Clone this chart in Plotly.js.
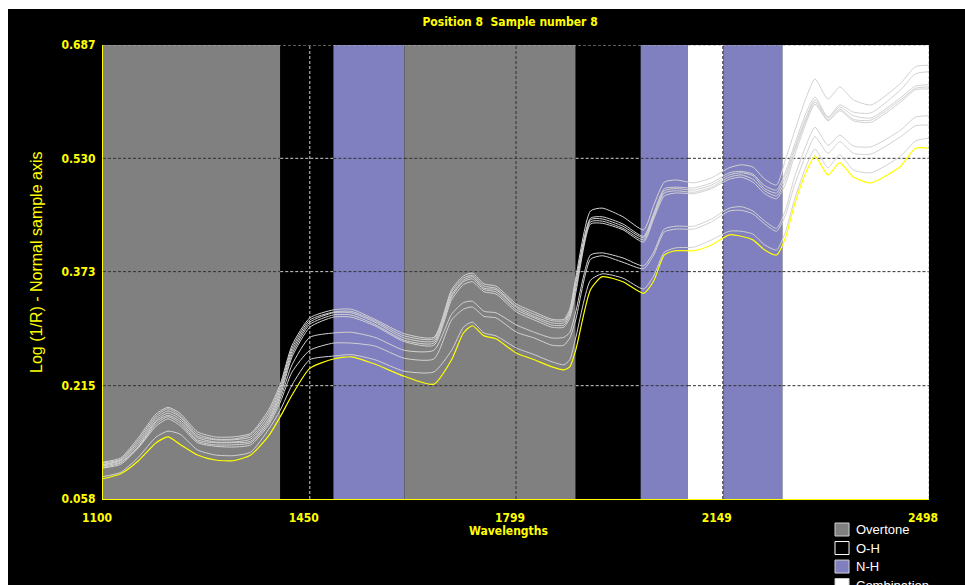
<!DOCTYPE html>
<html>
<head>
<meta charset="utf-8">
<script src="https://cdn.plot.ly/plotly-3.0.1.min.js"></script>
<style>
  html, body { margin: 0; padding: 0; background: #ffffff; width: 965px; height: 585px; overflow: hidden; }
  #chart { position: absolute; left: 8px; top: 9px; width: 957px; height: 576px; }
</style>
</head>
<body>
<div id="chart"></div>
<script>
// ---------------- DATA ----------------
const wavelengths = [1100, 1130, 1160, 1190, 1210, 1230, 1260, 1290, 1320, 1350,
  1380, 1400, 1420, 1450, 1490, 1520, 1560, 1610, 1660, 1690,
  1710, 1725, 1745, 1765, 1800, 1830, 1860, 1880, 1890, 1900,
  1925, 1945, 1980, 2015, 2032, 2050, 2070, 2100, 2130, 2160,
  2180, 2200, 2220, 2240, 2255, 2270, 2290, 2305, 2327, 2347,
  2370, 2400, 2450, 2475, 2498];

const spectrum1 = [0.109, 0.115, 0.143, 0.176, 0.185, 0.177, 0.151, 0.144, 0.144, 0.149,
  0.181, 0.217, 0.271, 0.309, 0.320, 0.321, 0.307, 0.287, 0.282, 0.348,
  0.367, 0.371, 0.356, 0.353, 0.328, 0.317, 0.307, 0.307, 0.321, 0.364,
  0.457, 0.461, 0.449, 0.431, 0.465, 0.497, 0.500, 0.496, 0.503, 0.517,
  0.521, 0.518, 0.501, 0.493, 0.528, 0.566, 0.614, 0.640, 0.612, 0.629,
  0.611, 0.604, 0.634, 0.657, 0.659];
const spectrum2 = [0.108, 0.113, 0.140, 0.173, 0.183, 0.174, 0.148, 0.141, 0.141, 0.147,
  0.177, 0.213, 0.267, 0.306, 0.317, 0.318, 0.305, 0.284, 0.280, 0.345,
  0.364, 0.368, 0.353, 0.350, 0.325, 0.314, 0.305, 0.305, 0.318, 0.359,
  0.447, 0.449, 0.439, 0.422, 0.454, 0.488, 0.490, 0.489, 0.496, 0.510,
  0.512, 0.508, 0.492, 0.486, 0.511, 0.548, 0.593, 0.615, 0.587, 0.604,
  0.594, 0.593, 0.625, 0.647, 0.650];
const spectrum3 = [0.106, 0.112, 0.137, 0.170, 0.180, 0.172, 0.145, 0.140, 0.140, 0.144,
  0.173, 0.209, 0.263, 0.303, 0.316, 0.316, 0.303, 0.281, 0.277, 0.341,
  0.361, 0.366, 0.350, 0.348, 0.323, 0.311, 0.302, 0.302, 0.316, 0.355,
  0.445, 0.446, 0.436, 0.420, 0.451, 0.485, 0.488, 0.486, 0.493, 0.507,
  0.510, 0.506, 0.488, 0.482, 0.506, 0.543, 0.587, 0.611, 0.586, 0.601,
  0.589, 0.586, 0.614, 0.630, 0.632];
const spectrum4 = [0.105, 0.111, 0.134, 0.167, 0.177, 0.169, 0.143, 0.137, 0.137, 0.141,
  0.169, 0.205, 0.259, 0.300, 0.313, 0.313, 0.300, 0.278, 0.274, 0.338,
  0.359, 0.363, 0.348, 0.345, 0.320, 0.309, 0.299, 0.299, 0.313, 0.349,
  0.442, 0.443, 0.433, 0.417, 0.449, 0.482, 0.485, 0.483, 0.490, 0.504,
  0.507, 0.501, 0.485, 0.478, 0.500, 0.539, 0.583, 0.608, 0.583, 0.598,
  0.584, 0.583, 0.611, 0.627, 0.629];
const spectrum5 = [0.104, 0.109, 0.131, 0.165, 0.174, 0.166, 0.140, 0.136, 0.136, 0.138,
  0.166, 0.201, 0.255, 0.296, 0.310, 0.310, 0.298, 0.276, 0.271, 0.334,
  0.355, 0.359, 0.345, 0.342, 0.317, 0.306, 0.296, 0.296, 0.309, 0.343,
  0.439, 0.440, 0.431, 0.414, 0.446, 0.478, 0.482, 0.481, 0.488, 0.501,
  0.504, 0.497, 0.481, 0.474, 0.494, 0.533, 0.579, 0.605, 0.582, 0.596,
  0.582, 0.580, 0.608, 0.625, 0.626];
const spectrum6 = [0.102, 0.108, 0.130, 0.162, 0.172, 0.163, 0.138, 0.133, 0.133, 0.136,
  0.163, 0.197, 0.244, 0.282, 0.288, 0.289, 0.282, 0.264, 0.264, 0.314,
  0.330, 0.332, 0.318, 0.316, 0.299, 0.289, 0.281, 0.282, 0.289, 0.317,
  0.396, 0.399, 0.392, 0.381, 0.400, 0.432, 0.436, 0.436, 0.446, 0.461,
  0.463, 0.457, 0.443, 0.433, 0.458, 0.503, 0.548, 0.573, 0.548, 0.562,
  0.547, 0.546, 0.569, 0.587, 0.589];
const spectrum7 = [0.101, 0.106, 0.129, 0.159, 0.169, 0.160, 0.136, 0.131, 0.130, 0.133,
  0.160, 0.192, 0.234, 0.264, 0.274, 0.274, 0.270, 0.253, 0.252, 0.306,
  0.321, 0.324, 0.311, 0.309, 0.289, 0.281, 0.271, 0.271, 0.281, 0.306,
  0.390, 0.395, 0.386, 0.377, 0.396, 0.428, 0.432, 0.432, 0.442, 0.457,
  0.458, 0.453, 0.439, 0.429, 0.451, 0.492, 0.535, 0.560, 0.537, 0.553,
  0.537, 0.536, 0.560, 0.575, 0.576];
const spectrum8 = [0.089, 0.095, 0.116, 0.144, 0.152, 0.148, 0.126, 0.119, 0.118, 0.123,
  0.154, 0.181, 0.216, 0.251, 0.256, 0.258, 0.251, 0.235, 0.234, 0.264,
  0.296, 0.303, 0.288, 0.284, 0.267, 0.258, 0.248, 0.244, 0.251, 0.281,
  0.361, 0.370, 0.364, 0.349, 0.367, 0.400, 0.406, 0.407, 0.417, 0.429,
  0.429, 0.425, 0.410, 0.403, 0.428, 0.472, 0.519, 0.543, 0.517, 0.535,
  0.514, 0.510, 0.533, 0.554, 0.558];
// current sample (yellow)
const sample8 = [0.086, 0.093, 0.111, 0.136, 0.144, 0.134, 0.119, 0.112, 0.111, 0.119,
  0.145, 0.172, 0.202, 0.239, 0.252, 0.255, 0.245, 0.228, 0.217, 0.251,
  0.288, 0.298, 0.284, 0.280, 0.260, 0.251, 0.241, 0.237, 0.241, 0.264,
  0.348, 0.366, 0.359, 0.343, 0.360, 0.396, 0.402, 0.402, 0.410, 0.424,
  0.422, 0.417, 0.403, 0.396, 0.420, 0.465, 0.511, 0.533, 0.507, 0.524,
  0.504, 0.496, 0.519, 0.544, 0.544];

// absorption regions
const bandStart = [1100, 1400, 1490, 1610, 1900, 2010, 2090, 2150, 2250];
const bandEnd   = [1400, 1490, 1610, 1900, 2010, 2090, 2150, 2250, 2498];
const bandType  = ['Overtone', 'O-H', 'N-H', 'Overtone', 'O-H', 'N-H', 'Combination', 'N-H', 'Combination'];

const legendNames = ['Overtone', 'O-H', 'N-H', 'Combination'];

const xTickVals = [1100, 1450, 1799, 2149, 2498];
const xTickText = ['1100', '1450', '1799', '2149', '2498'];
const yTickVals = [0.058, 0.215, 0.373, 0.530, 0.687];
const yTickText = ['0.058', '0.215', '0.373', '0.530', '0.687'];

const titleText = 'Position 8  Sample number 8';
const xTitle = 'Wavelengths';
const yTitle = 'Log (1/R) - Normal sample axis';

// ---------------- STYLE ----------------
const bandColor = { 'Overtone': '#808080', 'O-H': '#000000', 'N-H': '#8080c0', 'Combination': '#ffffff' };
const YEL = '#ffff00';
const narrow = 'DejaVu Sans Condensed, Liberation Sans Narrow, sans-serif';
const xMin = xTickVals[0], xMax = xTickVals[xTickVals.length - 1];
const yMin = yTickVals[0], yMax = yTickVals[yTickVals.length - 1];

const shapes = [];
// bands
for (let i = 0; i < bandStart.length; i++) {
  shapes.push({ type: 'rect', xref: 'x', yref: 'paper', x0: bandStart[i], x1: bandEnd[i], y0: 0, y1: 1,
    fillcolor: bandColor[bandType[i]], line: { width: 0 }, layer: 'below' });
}
function gridColor(t) { return t === 'O-H' ? '#d0d0d0' : '#303030'; }
// horizontal grid segments (inner ticks)
yTickVals.slice(1, -1).forEach(v => {
  for (let i = 0; i < bandStart.length; i++) {
    shapes.push({ type: 'line', xref: 'x', yref: 'y', x0: bandStart[i], x1: bandEnd[i], y0: v, y1: v,
      line: { color: gridColor(bandType[i]), width: 1, dash: '3px,2px' }, layer: 'below' });
  }
});
// vertical grid (inner ticks)
xTickVals.slice(1, -1).forEach(v => {
  let t = 'Combination';
  for (let i = 0; i < bandStart.length; i++) if (v >= bandStart[i] && v < bandEnd[i]) t = bandType[i];
  shapes.push({ type: 'line', xref: 'x', yref: 'paper', x0: v, x1: v, y0: 0, y1: 1,
    line: { color: gridColor(t), width: 1, dash: '3px,2px' }, layer: 'below' });
});
// top and right dashed frame
shapes.push({ type: 'line', xref: 'x', yref: 'y', x0: xMin, x1: xMax, y0: yMax, y1: yMax,
  line: { color: '#b0b0b0', width: 1, dash: '3px,2px' } });
shapes.push({ type: 'line', xref: 'x', yref: 'y', x0: xMax, x1: xMax, y0: yMin, y1: yMax,
  line: { color: '#b0b0b0', width: 1, dash: '3px,2px' } });

// legend (custom, below right)
const annotations = [];
const legX0 = 0.8862, legBox = 0.017, legTop = -0.0529, legRow = 0.0408, legH = 0.0286;
legendNames.forEach((n, i) => {
  const top = legTop - i * legRow;
  shapes.push({ type: 'rect', xref: 'paper', yref: 'paper', x0: legX0, x1: legX0 + legBox, y0: top - legH, y1: top,
    fillcolor: bandColor[n], line: { color: n === 'O-H' ? '#ffffff' : '#d0d0d0', width: 1 } });
  annotations.push({ xref: 'paper', yref: 'paper', x: legX0 + legBox + 0.006, y: top - legH / 2,
    xanchor: 'left', yanchor: 'middle', text: n, showarrow: false,
    font: { family: 'Liberation Sans, Arial, sans-serif', size: 13, color: '#ffffff' } });
});
// axis titles
annotations.push({ xref: 'paper', yref: 'paper', x: 0.4915, y: -0.0705, xanchor: 'center', yanchor: 'middle',
  text: xTitle, showarrow: false, font: { family: narrow, size: 12, color: YEL, weight: 'bold' } });
annotations.push({ xref: 'paper', yref: 'paper', x: -0.0799, y: 0.52, xanchor: 'center', yanchor: 'middle',
  text: yTitle, textangle: -90, showarrow: false, font: { family: 'Liberation Sans, Arial, sans-serif', size: 16, color: YEL } });

// traces
const greySeries = [spectrum1, spectrum2, spectrum3, spectrum4, spectrum5, spectrum6, spectrum7, spectrum8];
const traces = greySeries.map(s => ({
  x: wavelengths, y: s, type: 'scatter', mode: 'lines',
  line: { color: '#d2d2d2', width: 1, shape: 'spline', smoothing: 0.6 }, hoverinfo: 'skip'
}));
traces.push({ x: wavelengths, y: sample8, type: 'scatter', mode: 'lines',
  line: { color: YEL, width: 1.2, shape: 'spline', smoothing: 0.6 }, hoverinfo: 'skip' });

const layout = {
  width: 957, height: 576,
  paper_bgcolor: '#000000', plot_bgcolor: '#000000',
  margin: { l: 95, r: 36, t: 36, b: 86 },
  showlegend: false,
  title: { text: titleText, x: 0.5246, xanchor: 'center', y: 0.977, yanchor: 'middle', yref: 'container',
    font: { family: narrow, size: 12, color: YEL, weight: 'bold' } },
  xaxis: { range: [xMin, xMax], tickvals: xTickVals, ticktext: xTickText, showgrid: false, zeroline: false,
    showline: true, linecolor: YEL, linewidth: 1, ticks: '', ticklabelshift: -6, ticklabelstandoff: 8,
    tickfont: { family: narrow, size: 12, color: YEL, weight: 'bold' } },
  yaxis: { range: [yMin, yMax], tickvals: yTickVals, ticktext: yTickText, showgrid: false, zeroline: false,
    showline: true, linecolor: YEL, linewidth: 1, ticks: '', ticklabelstandoff: 4,
    tickfont: { family: narrow, size: 12, color: YEL, weight: 'bold' } },
  shapes: shapes,
  annotations: annotations
};

Plotly.newPlot('chart', traces, layout, { staticPlot: true, displayModeBar: false });
</script>
</body>
</html>
